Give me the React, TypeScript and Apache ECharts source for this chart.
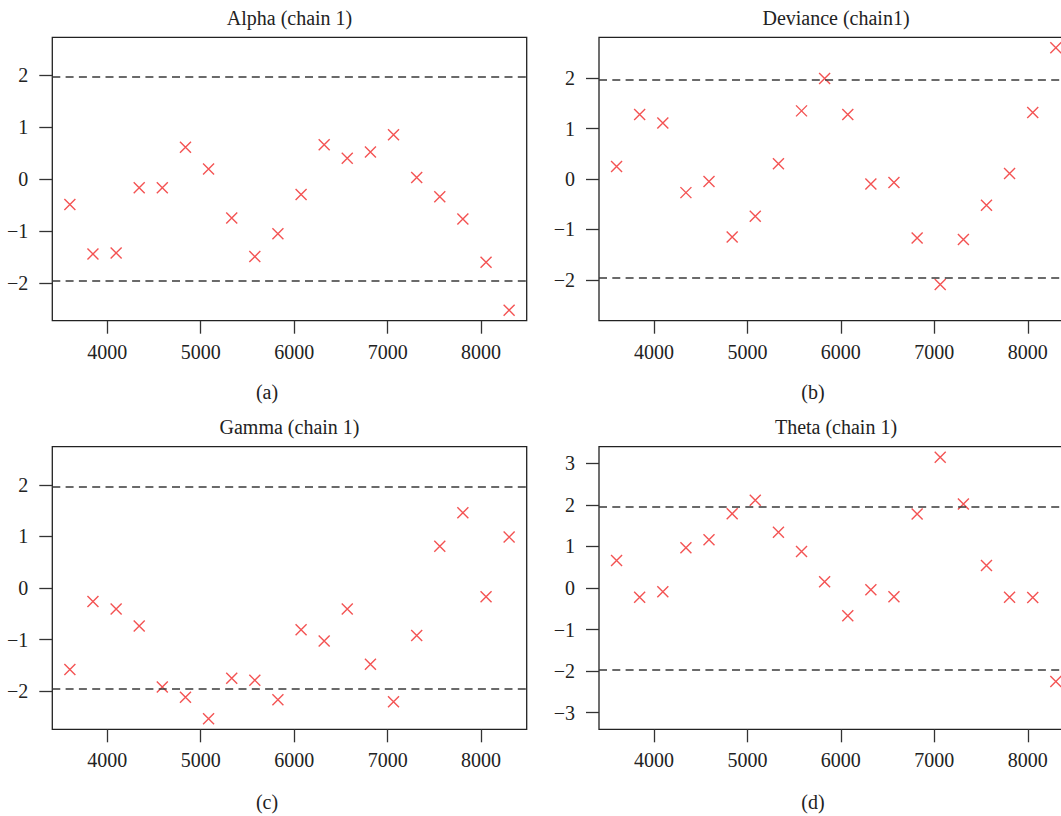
import React, { useEffect, useRef } from "react";
import * as echarts from "echarts";

// Iteration (start of each Geweke segment)
const iterations = [
  3600, 3847, 4095, 4342, 4589, 4837, 5084, 5332, 5579, 5826,
  6074, 6321, 6568, 6816, 7063, 7311, 7558, 7805, 8053, 8300,
];

// Geweke Z-scores per parameter
const alphaZ = [
  -0.49, -1.44, -1.42, -0.17, -0.17, 0.61, 0.19, -0.75, -1.49, -1.05,
  -0.3, 0.66, 0.4, 0.52, 0.85, 0.03, -0.34, -0.77, -1.6, -2.52,
];
const devianceZ = [
  0.25, 1.28, 1.11, -0.27, -0.05, -1.15, -0.74, 0.3, 1.35, 1.99,
  1.28, -0.1, -0.07, -1.17, -2.09, -1.2, -0.52, 0.11, 1.32, 2.6,
];
const gammaZ = [
  -1.58, -0.26, -0.41, -0.74, -1.92, -2.12, -2.54, -1.75, -1.79, -2.17,
  -0.81, -1.03, -0.41, -1.48, -2.21, -0.92, 0.81, 1.46, -0.17, 0.99,
];
const thetaZ = [
  0.66, -0.22, -0.09, 0.97, 1.16, 1.79, 2.11, 1.34, 0.88, 0.15,
  -0.67, -0.04, -0.21, 1.78, 3.15, 2.02, 0.54, -0.22, -0.23, -2.25,
];

const titles = ["Alpha (chain 1)", "Deviance (chain1)", "Gamma (chain 1)", "Theta (chain 1)"];
const captions = ["(a)", "(b)", "(c)", "(d)"];
const xTickValues = [4000, 5000, 6000, 7000, 8000];
const yTicksTwo = [-2, -1, 0, 1, 2];
const yTicksThree = [-3, -2, -1, 0, 1, 2, 3];
const zBounds = [1.96, -1.96];

const FONT = "'Liberation Serif', 'Times New Roman', serif";
const TEXT = "#222";
const LINE = "#222";

export default function App() {
  const ref = useRef<HTMLDivElement>(null);

  useEffect(() => {
    document.body.style.margin = "0";
    document.documentElement.style.overflow = "hidden";
    const chart = echarts.init(ref.current!, null, { renderer: "svg" });

    const seriesData = [alphaZ, devianceZ, gammaZ, thetaZ];
    const yTicks = [yTicksTwo, yTicksTwo, yTicksTwo, yTicksThree];
    const layouts = [
      { left: 52.3, top: 37.3, width: 474.4, height: 283.4, cx: 289.5, ty: 18.3, capx: 267, capy: 391.7 },
      { left: 599, top: 37.3, width: 474.4, height: 283.4, cx: 836, ty: 18.3, capx: 813, capy: 391.7 },
      { left: 52.3, top: 446.7, width: 474.4, height: 282.6, cx: 289.5, ty: 426.7, capx: 267, capy: 801.7 },
      { left: 599, top: 446.7, width: 474.4, height: 282.6, cx: 836, ty: 426.7, capx: 813, capy: 801.7 },
    ];

    const xMinData = Math.min(...iterations);
    const xMaxData = Math.max(...iterations);
    const xPad = (xMaxData - xMinData) * 0.04;

    const fmt = (v: number) => (v < 0 ? "\u2212" + Math.abs(v) : String(v));

    const grids = layouts.map((l) => ({
      left: l.left,
      top: l.top,
      width: l.width,
      height: l.height,
      show: true,
      borderColor: LINE,
      borderWidth: 1.3,
      backgroundColor: "transparent",
      containLabel: false,
    }));

    const xAxes = layouts.map((_, i) => ({
      type: "value",
      gridIndex: i,
      position: "bottom",
      min: xMinData - xPad,
      max: xMaxData + xPad,
      axisLine: { show: false, onZero: false },
      splitLine: { show: false },
      axisTick: {
        show: true,
        length: 13,
        customValues: xTickValues,
        lineStyle: { color: "#333", width: 1.3 },
      },
      axisLabel: {
        show: true,
        customValues: xTickValues,
        margin: 21,
        fontFamily: FONT,
        fontSize: 20,
        color: TEXT,
        formatter: (v: number) => String(v),
      },
    }));

    const yAxes = layouts.map((_, i) => {
      const lim = Math.max(2, ...seriesData[i].map((v) => Math.abs(v))) * 1.08;
      return {
        type: "value",
        gridIndex: i,
        position: "left",
        min: -lim,
        max: lim,
        axisLine: { show: false, onZero: false },
        splitLine: { show: false },
        axisTick: {
          show: true,
          length: 13,
          customValues: yTicks[i],
          lineStyle: { color: "#333", width: 1.3 },
        },
        axisLabel: {
          show: true,
          customValues: yTicks[i],
          margin: 24,
          fontFamily: FONT,
          fontSize: 20,
          color: TEXT,
          formatter: fmt,
        },
      };
    });

    const series = seriesData.map((vals, i) => ({
      type: "scatter",
      xAxisIndex: i,
      yAxisIndex: i,
      data: iterations.map((x, k) => [x, vals[k]]),
      symbol: "path://M0,0L10,10M10,0L0,10",
      symbolSize: 11,
      itemStyle: { color: "transparent", borderColor: "#f02828", borderWidth: 1.4 },
      markLine: {
        silent: true,
        symbol: "none",
        label: { show: false },
        lineStyle: { type: [8, 5.3], color: "#3a3a3a", width: 1.5 },
        data: zBounds.map((b) => ({ yAxis: b })),
      },
    }));

    const graphics: any[] = [];
    layouts.forEach((l, i) => {
      graphics.push({
        type: "text",
        x: l.cx,
        y: l.ty,
        style: {
          text: titles[i],
          align: "center",
          verticalAlign: "middle",
          font: `20px ${FONT}`,
          fill: TEXT,
        },
      });
      graphics.push({
        type: "text",
        x: l.capx,
        y: l.capy,
        style: {
          text: captions[i],
          align: "center",
          verticalAlign: "middle",
          font: `20px ${FONT}`,
          fill: TEXT,
        },
      });
    });

    chart.setOption({
      animation: false,
      backgroundColor: "#fff",
      grid: grids,
      xAxis: xAxes,
      yAxis: yAxes,
      series,
      graphic: graphics,
    } as any);

    return () => chart.dispose();
  }, []);

  return (
    <div
      style={{
        position: "absolute",
        left: 0,
        top: 0,
        width: 1061,
        height: 816,
        overflow: "hidden",
        background: "#fff",
      }}
    >
      <div ref={ref} style={{ width: 1090, height: 816 }} />
    </div>
  );
}
